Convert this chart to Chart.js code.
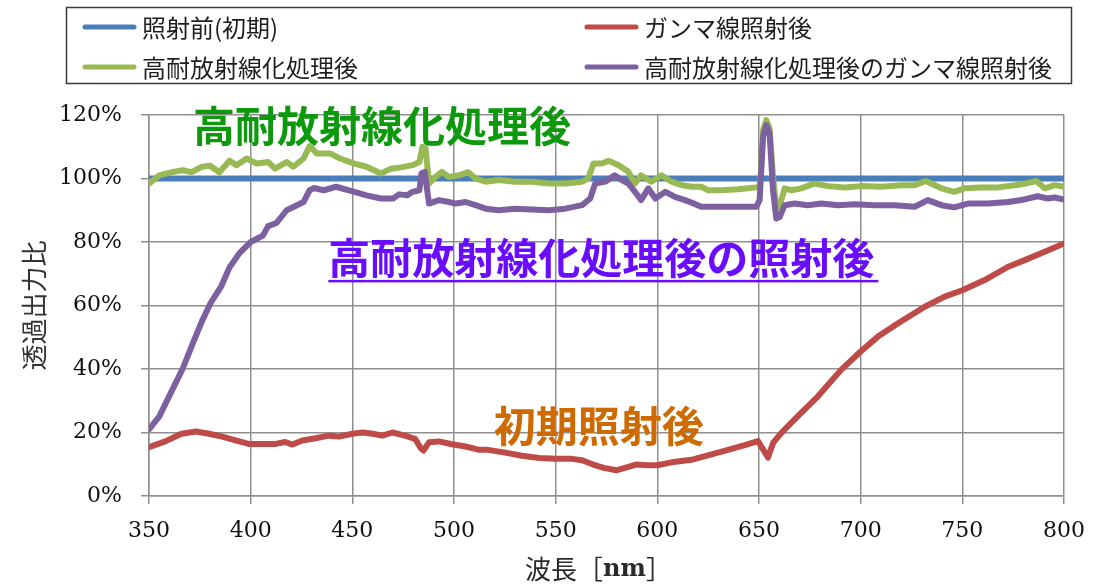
<!DOCTYPE html>
<html lang="ja">
<head>
<meta charset="utf-8">
<title>透過出力比</title>
<script src="https://cdn.jsdelivr.net/npm/chart.js@4/dist/chart.umd.min.js"></script>
<style>
  html, body { margin: 0; padding: 0; background: #fff; }
  #wrap { width: 1099px; height: 586px; }
</style>
</head>
<body>
<div id="wrap"><canvas id="c" width="1099" height="586"></canvas></div>
<script>
// ---- series labels ----
const seriesLabels = [
  '照射前(初期)',
  'ガンマ線照射後',
  '高耐放射線化処理後',
  '高耐放射線化処理後のガンマ線照射後'
];

// ---- axis text ----
const yTitle = '透過出力比';
const xTitleParts = ['波長［', 'nm', '］'];
const xTickStep = 50;
const yTickStep = 20;

// ---- 照射前(初期): wavelength [nm] / ratio [%] ----
const initialNm  = [350, 800];
const initialPct = [100, 100];

// ---- ガンマ線照射後 ----
const gammaNm = [350, 358, 366, 373, 379.5, 386, 392.6, 399, 405.7, 412.3, 417, 420.5, 425.4, 432, 438.5,
  443.4, 450, 455, 460, 464.8, 469.7, 476, 481, 483.6, 485, 487.7, 492.6, 499, 505.7, 512, 515.8, 524.6,
  533.3, 542, 550, 558, 563, 568.4, 573.7, 579.8, 584, 589.5, 594.7, 600, 607, 616.7, 633, 643, 649.5,
  652, 654.4, 657, 661, 669, 679, 690.5, 700, 708.5, 718.4, 731.5, 741.3, 750, 761, 772.5, 780.7, 790.5, 800];
const gammaPct = [15.4, 17.2, 19.6, 20.3, 19.6, 18.7, 17.5, 16.4, 16.4, 16.4, 17, 16.2, 17.5, 18.2, 19,
  18.7, 19.6, 20, 19.6, 19, 20, 19, 17.9, 15.1, 14.3, 16.9, 17.2, 16.3, 15.6, 14.6, 14.6, 13.75,
  12.7, 12, 11.7, 11.7, 11.25, 9.9, 8.85, 8.1, 8.85, 9.9, 9.7, 9.7, 10.6, 11.4, 14.2, 16, 17.3,
  14.7, 12.1, 16.8, 19.9, 25.1, 31.4, 39.8, 45.5, 50.2, 54.4, 59.6, 62.8, 64.8, 68, 72.2, 74.3, 76.9, 79.5];

// ---- 高耐放射線化処理後 ----
const treatedNm = [350, 355, 361.5, 366.5, 371, 376, 380, 384.6, 389.6, 393, 398, 403, 408.6, 412, 417.7,
  421, 426, 429, 432.5, 439, 444, 451, 457, 464, 469, 474, 479.6, 483, 484.5, 486, 487.7, 491, 494,
  497.5, 502.5, 507, 510.6, 515.5, 522, 530, 538.4, 546.6, 554.7, 563, 566, 568.6, 572.7, 576, 581,
  585.8, 589, 592, 597, 602, 607, 612, 617, 621.6, 625, 631.5, 639.7, 648.7, 650.5, 652, 653.6, 655.2,
  656.9, 658.5, 660.2, 662.6, 666, 670.8, 677, 684, 692, 700.3, 710, 720, 726.6, 732, 739.7, 746, 751,
  759.4, 767.6, 775.8, 782.4, 786.4, 790.5, 795.5, 800];
const treatedPct = [98.4, 101, 102, 102.6, 102, 103.7, 104, 102, 105.6, 104.2, 106.3, 104.7, 105.2, 103.1, 105.2,
  103.7, 106.3, 110.2, 107.9, 107.9, 106.3, 104.7, 103.7, 101.6, 103.1, 103.5, 104.2, 105.2, 110, 109.5, 98.4, 100.5, 102.1,
  100.5, 101, 102, 100, 99, 99.5, 99, 99, 98.4, 98.4, 99, 100, 104.7, 104.7, 105.6, 104.2,
  102.1, 98.4, 101, 99, 101, 99, 97.9, 97.4, 97.4, 96.3, 96.3, 96.6, 97.2, 97.5, 115.2, 118.4, 115.7,
  100.5, 90.5, 91.5, 96.9, 96.3, 96.9, 98.4, 97.6, 97.2, 97.6, 97.4, 97.9, 97.9, 99.2, 96.9, 95.8, 96.9,
  97.2, 97.2, 97.9, 98.6, 99.2, 96.9, 97.9, 97.4];

// ---- 高耐放射線化処理後のガンマ線照射後 ----
const treatedGammaNm = [350, 355, 361.5, 366.5, 371.5, 376, 380.5, 385.5, 389.6, 394.5, 400, 406, 408.6, 412.7,
  417.7, 421, 426, 429, 431, 436, 442, 451, 457, 464, 470, 473, 477, 479.6, 483, 484, 485.6, 487.7, 492.6,
  497.5, 500.8, 505.7, 510.6, 515.5, 522, 530, 538.4, 546.6, 554.7, 563, 567, 569.4, 574.4, 579, 582.5,
  585.8, 589, 592, 595.6, 599, 604, 608.7, 613.6, 618.4, 621.6, 625, 631.5, 639.7, 648.7, 650.3, 652,
  653.6, 655.2, 656.9, 658.5, 660.2, 662.6, 667.5, 674, 680.7, 688.9, 697, 707, 716.7, 726.6, 733, 739.7,
  746, 752.8, 762.6, 772.5, 779, 787, 792, 795.5, 800];
const treatedGammaPct = [21, 25, 33.5, 40, 48, 55, 61, 66, 72, 76.5, 80, 82, 85, 86,
  90, 91, 92.6, 96.3, 97, 96.3, 97.4, 95.8, 94.7, 93.7, 93.7, 95, 94.7, 95.8, 96.3, 101.6, 102.1, 92.1, 93.2,
  92.6, 92.1, 92.6, 91.6, 90.5, 90, 90.5, 90.2, 90, 90.5, 91.6, 93.7, 98.4, 99, 101, 99.5,
  98.4, 95.8, 93.2, 96.9, 93.7, 95.8, 94.2, 93.2, 92, 91.1, 91.1, 91.1, 91.1, 91.1, 93.2, 113.1,
  116.8, 114.2, 96.3, 87.4, 87.9, 91.6, 92.1, 91.6, 92.1, 91.6, 91.9, 91.6, 91.6, 91.1, 93.2, 91.6,
  90.9, 92.1, 92.1, 92.6, 93.2, 94.4, 93.7, 94, 93.4];

const colors = ['#4a7ebb', '#be4b48', '#98b954', '#7d60a0'];

const toPoints = (xs, ys) => xs.map((x, i) => ({ x, y: ys[i] }));

const lineStyle = {
  borderWidth: 6,
  pointRadius: 0,
  pointHoverRadius: 0,
  fill: false,
  tension: 0,
  borderJoinStyle: 'round',
  borderCapStyle: 'round'
};

const gridGray = '#8f8f8f';
const tickFont = { family: '"DejaVu Serif", "Liberation Serif", serif', size: 22 };
const jpFont = '"Noto Sans CJK JP", "Noto Sans", sans-serif';

// legend box in two columns above the plot
const legendBox = {
  id: 'legendBox',
  afterDraw(chart) {
    const ctx = chart.ctx;
    ctx.save();
    ctx.strokeStyle = '#3a3a3a';
    ctx.lineWidth = 1.5;
    ctx.strokeRect(66.5, 7.5, 1005, 76);
    const cols = [82, 584];
    const rows = [27, 67];
    chart.data.datasets.forEach((ds, i) => {
      const x = cols[i % 2];
      const y = rows[Math.floor(i / 2)];
      ctx.strokeStyle = ds.borderColor;
      ctx.lineWidth = 5;
      ctx.lineCap = 'round';
      ctx.beginPath();
      ctx.moveTo(x + 3, y);
      ctx.lineTo(x + 52, y);
      ctx.stroke();
      ctx.fillStyle = '#1e1e1e';
      ctx.font = '24px ' + jpFont;
      ctx.textBaseline = 'middle';
      ctx.textAlign = 'left';
      ctx.fillText(ds.label, x + 60, y + 1);
    });
    ctx.restore();
  }
};

// callout labels placed in data space
const callouts = [
  { text: '高耐放射線化処理後', nm: 371.6, pct: 116.5, color: '#0c9a0c', underline: false },
  { text: '高耐放射線化処理後の照射後', nm: 438.2, pct: 75, color: '#6a0cff', underline: true },
  { text: '初期照射後', nm: 519.6, pct: 22, color: '#cf6a00', underline: false }
];

const calloutText = {
  id: 'calloutText',
  afterDatasetsDraw(chart) {
    const { ctx, scales: { x, y } } = chart;
    ctx.save();
    ctx.font = 'bold 42px ' + jpFont;
    ctx.textBaseline = 'middle';
    ctx.textAlign = 'left';
    callouts.forEach(c => {
      const px = x.getPixelForValue(c.nm);
      const py = y.getPixelForValue(c.pct);
      ctx.fillStyle = c.color;
      ctx.fillText(c.text, px, py);
      if (c.underline) {
        const w = ctx.measureText(c.text).width;
        ctx.fillRect(px, py + 22, w + 4, 2.5);
      }
    });
    ctx.restore();
  }
};

// x-axis title with the unit set in bold
const xAxisTitle = {
  id: 'xAxisTitle',
  afterDraw(chart) {
    const ctx = chart.ctx;
    const area = chart.chartArea;
    ctx.save();
    const fonts = ['26px ' + jpFont, 'bold 24px "DejaVu Serif", serif', '26px ' + jpFont];
    const widths = xTitleParts.map((t, i) => { ctx.font = fonts[i]; return ctx.measureText(t).width; });
    const total = widths.reduce((a, b) => a + b, 0);
    let cx = (area.left + area.right) / 2 - 8 - total / 2;
    const cy = 569;
    ctx.textBaseline = 'middle';
    ctx.textAlign = 'left';
    ctx.fillStyle = '#2a2a2a';
    xTitleParts.forEach((t, i) => {
      ctx.font = fonts[i];
      ctx.fillText(t, cx, cy + (i === 1 ? 1 : 0));
      cx += widths[i];
    });
    ctx.restore();
  }
};

new Chart(document.getElementById('c'), {
  type: 'line',
  data: {
    datasets: [
      { label: seriesLabels[0], data: toPoints(initialNm, initialPct), borderColor: colors[0], order: 4, ...lineStyle },
      { label: seriesLabels[1], data: toPoints(gammaNm, gammaPct), borderColor: colors[1], order: 3, ...lineStyle },
      { label: seriesLabels[2], data: toPoints(treatedNm, treatedPct), borderColor: colors[2], order: 2, ...lineStyle },
      { label: seriesLabels[3], data: toPoints(treatedGammaNm, treatedGammaPct), borderColor: colors[3], order: 1, ...lineStyle }
    ]
  },
  options: {
    responsive: false,
    animation: false,
    devicePixelRatio: 1,
    layout: { padding: { top: 115, right: 32, left: 0, bottom: 0 } },
    plugins: {
      legend: { display: false },
      tooltip: { enabled: false }
    },
    scales: {
      x: {
        type: 'linear',
        min: 350,
        max: 800,
        ticks: { stepSize: xTickStep, font: tickFont, color: '#111', padding: 14, maxRotation: 0 },
        grid: { color: gridGray, lineWidth: 1.5, tickLength: 8 },
        border: { color: gridGray, width: 1.5 },
        afterFit(s) { s.height = 90; }
      },
      y: {
        min: 0,
        max: 120,
        ticks: { stepSize: yTickStep, font: tickFont, color: '#111', padding: 19, callback: v => v + '%' },
        grid: { color: gridGray, lineWidth: 1.5, tickLength: 8 },
        border: { color: gridGray, width: 1.5 },
        title: {
          display: true,
          text: yTitle,
          color: '#333',
          font: { family: jpFont, size: 26, lineHeight: 1.2 },
          padding: { top: 19, bottom: 0 }
        },
        afterFit(s) { s.width = 149; }
      }
    }
  },
  plugins: [legendBox, calloutText, xAxisTitle]
});
</script>
</body>
</html>
